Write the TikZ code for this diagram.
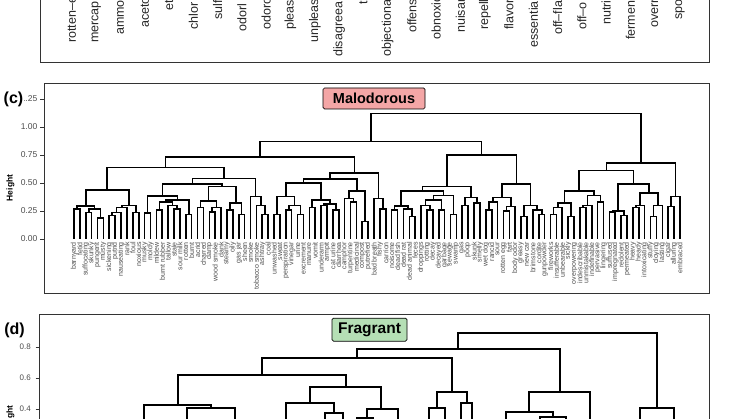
\documentclass[tikz,border=0pt]{standalone}
\usepackage{fontspec}
\setmainfont{Liberation Sans}
\definecolor{axgray}{HTML}{4D4D4D}
\definecolor{framegray}{HTML}{333333}
\definecolor{malofill}{HTML}{F4A6A6}
\definecolor{fragfill}{HTML}{B5DFB5}
\newcount\stkp
\newcount\leafk
\newcommand\dLeaf[1]{%
  \global\advance\stkp by 1\relax
  \pgfmathsetmacro\dLx{74+5.883*\the\leafk}%
  \expandafter\xdef\csname stx\the\stkp\endcsname{\dLx}%
  \expandafter\xdef\csname sty\the\stkp\endcsname{0}%
  \node[leaflab] (lf\the\leafk) at (\dLx,242) {#1};%
  \global\advance\leafk by 1\relax
}
\newcommand\dMerge[1]{%
  \edef\dBx{\csname stx\the\stkp\endcsname}%
  \edef\dBy{\csname sty\the\stkp\endcsname}%
  \global\advance\stkp by -1\relax
  \edef\dAx{\csname stx\the\stkp\endcsname}%
  \edef\dAy{\csname sty\the\stkp\endcsname}%
  \pgfmathsetmacro\dMx{(\dAx+\dBx)/2}%
  \draw[dend] (\dAx,{239-112*\dAy}) -- (\dAx,{239-112*#1}) -- (\dBx,{239-112*#1}) -- (\dBx,{239-112*\dBy});%
  \expandafter\xdef\csname stx\the\stkp\endcsname{\dMx}%
  \expandafter\xdef\csname sty\the\stkp\endcsname{#1}%
}
\tikzset{
  dend/.style={line width=1.6pt, black, line join=miter},
  dendd/.style={line width=1.5pt, black, line join=miter},
  frame/.style={line width=0.9pt, draw=framegray},
  tickmark/.style={line width=0.8pt, draw=framegray},
  leaflab/.style={rotate=90, anchor=east, inner sep=0pt, font=\fontsize{7}{7}\selectfont, text=axgray},
  toplab/.style={rotate=90, anchor=west, inner sep=0pt, font=\fontsize{12.5}{12.5}\selectfont, text=black!85},
  ticklab/.style={anchor=east, inner sep=0pt, font=\fontsize{8.5}{8.5}\selectfont, text=axgray},
  tickld/.style={anchor=east, inner sep=0pt, font=\fontsize{8}{8}\selectfont, text=axgray},
  ylab/.style={rotate=90, inner sep=0pt, font=\bfseries\fontsize{8.5}{8.5}\selectfont, text=black},
  panlab/.style={inner sep=0.5pt, font=\bfseries\fontsize{16}{16}\selectfont, text=black},
  labbox/.style={draw=black, line width=0.7pt, rounded corners=1.5pt, inner sep=0pt, font=\bfseries, text=black}
}
\begin{document}
\begin{tikzpicture}[x=1pt,y=-1pt]
\useasboundingbox (0,0) rectangle (746,419);
\fill[white] (0,0) rectangle (746,419);
\clip (0,0) rectangle (746,419);

% ---------- top panel (cut off) ----------
\draw[frame] (40,-5) -- (40,62) -- (709,62) -- (709,-5);
\node[toplab] (t0)  at (72.0,43) {rotten–e};
\node[toplab] (t1)  at (96.3,43) {mercap};
\node[toplab] (t2)  at (120.6,35) {ammo};
\node[toplab] (t3)  at (144.8,28) {aceto};
\node[toplab] (t4)  at (169.1,11) {et};
\node[toplab] (t5)  at (193.4,30) {chlor};
\node[toplab] (t6)  at (217.7,20) {sulf};
\node[toplab] (t7)  at (242.0,32) {odorl};
\node[toplab] (t8)  at (266.2,30) {odoro};
\node[toplab] (t9)  at (290.5,30) {pleas};
\node[toplab] (t10) at (314.8,43) {unpleas};
\node[toplab] (t11) at (339.1,57) {disagreea};
\node[toplab] (t12) at (363.4,5) {t};
\node[toplab] (t13) at (387.6,57) {objectiona};
\node[toplab] (t14) at (411.9,33) {offens};
\node[toplab] (t15) at (436.2,40) {obnoxic};
\node[toplab] (t16) at (460.5,33) {nuisan};
\node[toplab] (t17) at (484.8,30) {repell};
\node[toplab] (t18) at (509.0,30) {flavor};
\node[toplab] (t19) at (533.3,48) {essentia};
\node[toplab] (t20) at (557.6,35) {off–fla};
\node[toplab] (t21) at (581.9,30) {off–o};
\node[toplab] (t22) at (606.2,25) {nutrit};
\node[toplab] (t23) at (630.4,40) {fermen};
\node[toplab] (t24) at (654.7,28) {overr};
\node[toplab] (t25) at (679.0,20) {spoi};

% ---------- panel (c) ----------
\draw[frame] (44,83) rectangle (709,293);
\foreach \v/\lab in {0/0.00,0.25/0.25,0.5/0.50,0.75/0.75,1/1.00,1.25/1.25}{
  \draw[tickmark] (40,{239-112*\v}) -- (44,{239-112*\v});
  \node[ticklab] at (37.5,{239-112*\v}) {\lab};
}
\node[ylab] (yc) at (10.5,188) {Height};
\node[panlab, fill=white] (pc) at (13.5,99) {(c)};
\node[labbox, fill=malofill, minimum width=102pt, minimum height=21pt, font=\bfseries\fontsize{14.5}{14.5}\selectfont] (malo) at (374,98.5) {Malodorous};

\global\stkp=0 \global\leafk=0
% A
\dLeaf{barnyard}\dLeaf{fetid}\dMerge{0.27}
\dLeaf{suffocating}\dLeaf{skunky}\dMerge{0.235}
\dLeaf{pungent}\dLeaf{musty}\dMerge{0.185}
\dMerge{0.27}\dMerge{0.295}
% B
\dLeaf{sickening}\dLeaf{putrid}\dMerge{0.21}\dLeaf{nauseating}\dMerge{0.235}\dLeaf{rank}\dMerge{0.28}
\dLeaf{foul}\dLeaf{noxious}\dMerge{0.235}\dMerge{0.30}
\dMerge{0.44}
% C1a
\dLeaf{musky}\dLeaf{moldy}\dMerge{0.23}
\dLeaf{mildew}\dLeaf{burnt rubber}\dMerge{0.26}
\dLeaf{tallow}\dLeaf{stale}\dLeaf{sour milk}\dMerge{0.27}\dMerge{0.30}
\dMerge{0.33}
\dLeaf{rotten}\dLeaf{burnt}\dMerge{0.22}
\dMerge{0.35}
\dMerge{0.385}
% C1b
\dLeaf{acrid}\dLeaf{charred}\dMerge{0.28}
\dLeaf{damp}\dLeaf{wood smoke}\dMerge{0.24}\dLeaf{dank}\dMerge{0.28}
\dMerge{0.34}
\dLeaf{steamy}\dLeaf{oily}\dMerge{0.26}
\dLeaf{gas jar}\dLeaf{sheen}\dMerge{0.22}
\dMerge{0.32}
\dMerge{0.47}
\dMerge{0.49}
% C2
\dLeaf{smoke}\dLeaf{tobacco smoke}\dLeaf{ashtray}\dLeaf{coal}\dMerge{0.22}\dMerge{0.30}\dMerge{0.38}
\dMerge{0.54}
\dMerge{0.64}
% LLR
\dLeaf{unwashed}\dLeaf{sweat}\dMerge{0.22}
\dLeaf{perspiration}\dLeaf{vinegar}\dMerge{0.26}
\dLeaf{urine}\dLeaf{excrement}\dMerge{0.22}
\dMerge{0.30}\dMerge{0.38}
\dLeaf{manure}\dLeaf{vomit}\dMerge{0.28}
\dLeaf{underarm}\dLeaf{armpit}\dMerge{0.30}
\dLeaf{cat urine}\dLeaf{diarrhea}\dMerge{0.26}
\dMerge{0.31}\dMerge{0.35}
\dMerge{0.50}
\dLeaf{camphor}\dLeaf{turpentine}\dLeaf{medicinal}\dMerge{0.33}\dMerge{0.36}
\dLeaf{compost}\dLeaf{putrefied}\dMerge{0.155}
\dMerge{0.43}
\dMerge{0.535}
\dLeaf{bad breath}\dLeaf{fishy}\dLeaf{carrion}\dMerge{0.27}\dMerge{0.36}
\dMerge{0.59}
\dMerge{0.73}
% LR
\dLeaf{noisome}\dLeaf{dead fish}\dMerge{0.26}
\dLeaf{dead rat}\dLeaf{dead animal}\dLeaf{feces}\dMerge{0.20}\dMerge{0.27}
\dMerge{0.295}
\dLeaf{droppings}\dLeaf{rotting}\dLeaf{decay}\dMerge{0.26}\dMerge{0.30}
\dLeaf{decayed}\dLeaf{garbage}\dMerge{0.26}
\dMerge{0.35}
\dLeaf{sewage}\dLeaf{swamp}\dMerge{0.22}
\dMerge{0.39}
\dMerge{0.43}
\dLeaf{gas}\dLeaf{poop}\dMerge{0.30}
\dLeaf{skunk}\dLeaf{smelly}\dMerge{0.32}
\dMerge{0.37}
\dMerge{0.47}
\dLeaf{wet dog}\dLeaf{rancid}\dMerge{0.26}\dLeaf{sour}\dMerge{0.33}
\dLeaf{rotten egg}\dLeaf{fart}\dMerge{0.25}\dLeaf{body odor}\dMerge{0.29}
\dMerge{0.37}
\dLeaf{greasy}\dLeaf{new car}\dMerge{0.20}
\dLeaf{brimstone}\dLeaf{cordite}\dLeaf{gunpowder}\dMerge{0.22}\dMerge{0.26}
\dMerge{0.30}
\dMerge{0.49}
\dMerge{0.75}
\dMerge{0.87}
% R
\dLeaf{fireworks}\dLeaf{insufferable}\dMerge{0.22}\dLeaf{unbearable}\dMerge{0.28}
\dLeaf{sickly}\dLeaf{overpowering}\dMerge{0.20}
\dMerge{0.32}
\dLeaf{indescribable}\dLeaf{unmistakable}\dMerge{0.28}\dLeaf{indefinable}\dMerge{0.30}
\dLeaf{pervasive}\dLeaf{lingering}\dMerge{0.33}
\dMerge{0.39}
\dMerge{0.43}
\dLeaf{suffused}\dLeaf{impregnated}\dMerge{0.24}
\dLeaf{redolent}\dLeaf{permeated}\dMerge{0.21}
\dMerge{0.25}
\dLeaf{heavy}\dLeaf{heady}\dMerge{0.28}\dLeaf{intoxicating}\dMerge{0.30}
\dLeaf{stuffy}\dLeaf{cloying}\dMerge{0.20}\dLeaf{lasting}\dMerge{0.30}
\dMerge{0.41}
\dMerge{0.49}
\dMerge{0.61}
\dLeaf{cigar}\dLeaf{alluring}\dMerge{0.29}\dLeaf{embraced}\dMerge{0.38}
\dMerge{0.68}
\dMerge{1.12}

% ---------- panel (d) ----------
\draw[frame] (39,425) -- (39,314) -- (709,314) -- (709,425);
\foreach \yy/\lab in {347/0.8,378/0.6,409/0.4}{
  \draw[tickmark] (35.5,\yy) -- (39,\yy);
  \node[tickld] at (31,\yy) {\lab};
}
\node[ylab, anchor=east] (yd) at (10.5,405) {ght};
\node[panlab] (pd) at (14.5,330.5) {(d)};
\node[labbox, fill=fragfill, minimum width=75pt, minimum height=23pt, font=\bfseries\fontsize{15.5}{15.5}\selectfont] (frag) at (369.5,329.7) {Fragrant};

\draw[dendd] (458,349) -- (458,333) -- (657,333) -- (657,408);
\draw[dendd] (357,358) -- (357,349) -- (560,349) -- (560,392);
\draw[dendd] (262,375) -- (262,358) -- (452,358) -- (452,392);
\draw[dendd] (178,405) -- (178,375) -- (346,375) -- (346,387);
\draw[dendd] (144,425) -- (144,405) -- (211,405) -- (211,408);
\draw[dendd] (187,425) -- (187,408) -- (235,408) -- (235,425);
\draw[dendd] (310,403) -- (310,387) -- (381,387) -- (381,409);
\draw[dendd] (286,425) -- (286,403) -- (334,403) -- (334,413);
\draw[dendd] (325,425) -- (325,413) -- (343,413) -- (343,425);
\draw[dendd] (367,418) -- (367,409) -- (398,409) -- (398,425);
\draw[dendd] (357,425) -- (357,418) -- (373,418) -- (373,425);
\draw[dendd] (437,408) -- (437,392) -- (467,392) -- (467,403);
\draw[dendd] (429,425) -- (429,408) -- (445,408) -- (445,425);
\draw[dendd] (461,425) -- (461,403) -- (472,403) -- (472,425);
\draw[dendd] (529,412) -- (529,392) -- (590,392) -- (590,425);
\draw[dendd] (506,425) -- (506,412) -- (553,412) -- (553,417);
\draw[dendd] (540,425) -- (540,417) -- (566,417) -- (566,425);
\draw[dendd] (640,425) -- (640,408) -- (674,408) -- (674,425);
\end{tikzpicture}
\end{document}
